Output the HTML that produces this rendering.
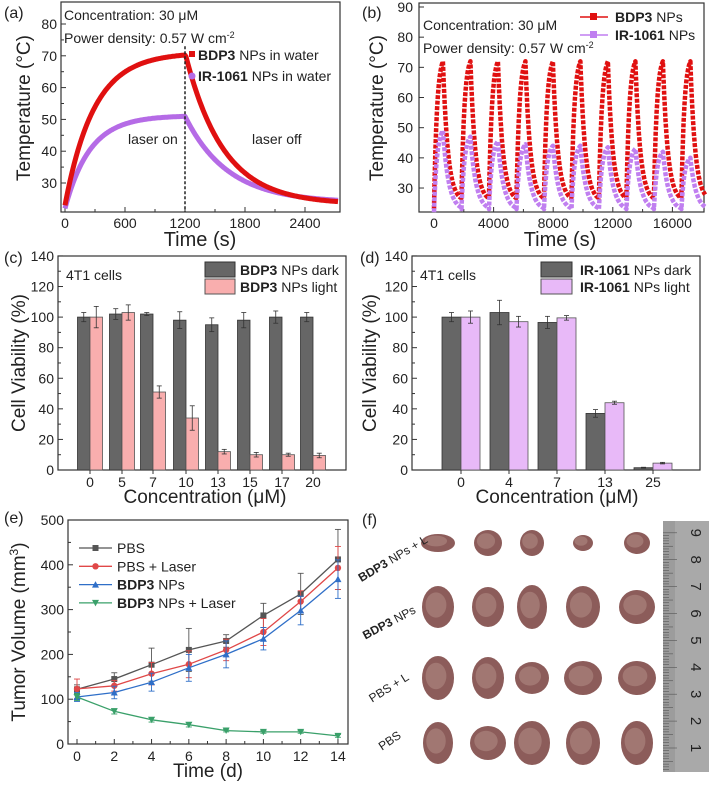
<!DOCTYPE html>
<html><head><meta charset="utf-8">
<style>
html,body{margin:0;padding:0;background:#fff;}
svg{display:block;font-family:"Liberation Sans",Arial,sans-serif;}
</style></head>
<body>
<svg id="s" width="709" height="785" viewBox="0 0 709 785" xmlns="http://www.w3.org/2000/svg">
<rect width="709" height="785" fill="#fff"/>
<g id="g"></g>
</svg>
<script>
var NS="http://www.w3.org/2000/svg",G=document.getElementById('g');
function el(t,a,txt){var e=document.createElementNS(NS,t);for(var k in a)e.setAttribute(k,a[k]);if(txt!=null)e.textContent=txt;G.appendChild(e);return e;}
function line(x1,y1,x2,y2,c,w,d){var a={x1:x1,y1:y1,x2:x2,y2:y2,stroke:c||'#333','stroke-width':w||1};if(d)a['stroke-dasharray']=d;return el('line',a);}
function text(x,y,s,fs,anc,extra){var a={x:x,y:y,'font-size':fs||14,'text-anchor':anc||'start',fill:'#222'};for(var k in extra)a[k]=extra[k];var e=el('text',a);e.innerHTML=s;return e;}
function box(x1,y1,x2,y2){el('rect',{x:x1,y:y1,width:x2-x1,height:y2-y1,fill:'none',stroke:'#333','stroke-width':1.2});}
function poly(pts,c,w,d){var a={points:pts.map(function(p){return p[0].toFixed(1)+','+p[1].toFixed(1)}).join(' '),fill:'none',stroke:c,'stroke-width':w,'stroke-linejoin':'round'};if(d)a['stroke-dasharray']=d;return el('polyline',a);}
function ylab(x,y,s){text(x,y,s,19,'middle',{transform:'rotate(-90 '+x+' '+y+')'});}

/* ---------- (a) ---------- */
(function(){
var L=61,R=340,T=2,B=212;
function X(t){return 65+t*0.1;} function Y(v){return 24+(80-v)*3.18;}
box(L,T,R,B);
[30,40,50,60,70,80].forEach(function(v){line(L,Y(v),L+5,Y(v));text(L-4,Y(v)+5,v,14,'end');});
[35,45,55,65,75].forEach(function(v){line(L,Y(v),L+3,Y(v));});
[0,600,1200,1800,2400].forEach(function(v){line(X(v),B,X(v),B-5);text(X(v),B+16,v,14,'middle');});
[300,900,1500,2100].forEach(function(v){line(X(v),B,X(v),B-3);});
var r=[],p=[];
for(var t=0;t<=2730;t+=10){
 var v1,v2;
 if(t<=1200){v1=23+48*(1-Math.exp(-t/290));v2=22+29.2*(1-Math.exp(-t/250));}
 else{v1=23.3+47.7*Math.exp(-(t-1200)/380);v2=23.8+27.2*Math.exp(-(t-1200)/430);}
 r.push([X(t),Y(v1)]);p.push([X(t),Y(v2)]);
}
poly(p,'#b56be6',5);
poly(r,'#e01010',5);
line(X(1200),Y(73),X(1200),B,'#222',1.5,'3 2');
text(64,20,'Concentration: 30 &#956;M',14);
text(64,43,'Power density: 0.57 W cm<tspan dy="-5" font-size="9">-2</tspan>',14);
el('rect',{x:189,y:51,width:6,height:6,fill:'#e01010'});
text(198,60,'<tspan font-weight="bold">BDP3</tspan> NPs in water',14);
el('circle',{cx:192,cy:76,r:3.5,fill:'#b56be6'});
text(198,81,'<tspan font-weight="bold">IR-1061</tspan> NPs in water',14);
text(128,144,'laser on',14);text(252,144,'laser off',14);
ylab(30,108,'Temperature (&#176;C)');
text(200,246,'Time (s)',20,'middle');
text(4,18,'(a)',16);
})();

/* ---------- (b) ---------- */
(function(){
var L=419,R=704,T=3,B=212;
function X(t){return 434+t*0.0149;} function Y(v){return 7+(90-v)*3.017;}
box(L,T,R,B);
[30,40,50,60,70,80,90].forEach(function(v){line(L,Y(v),L+5,Y(v));text(L-6,Y(v)+5,v,14,'end');});
[0,4000,8000,12000,16000].forEach(function(v){line(X(v),B,X(v),B-5);text(X(v),B+16,v,14,'middle');});
[2000,6000,10000,14000].forEach(function(v){line(X(v),B,X(v),B-3);});
var per=1845,r=[],p=[];
var pk=[49,47,45.5,44.5,44,44,43.5,43,42,40];
for(var c=0;c<10;c++){
 var t0=c*per, rmin=(c==0?23:27), pmin=(c==0?22:23);
 for(var t=0;t<per;t+=30){
  var tt=t0+t; if(tt>18200)break;
  var v1,v2;
  if(t<=600){v1=rmin+(72-rmin)*(1-Math.exp(-t/200))/(1-Math.exp(-3));v2=pmin+(pk[c]-pmin)*(1-Math.exp(-t/200))/(1-Math.exp(-3));}
  else{v1=25.5+46.5*Math.exp(-(t-600)/330);v2=22.5+(pk[c]-22.5)*Math.exp(-(t-600)/380);}
  r.push([X(tt),Y(v1)]);p.push([X(tt),Y(v2)]);
 }
}
poly(r,'#e01010',4.5,'4 1.5');
poly(p,'#c07ff0',4.5,'4 1.5');
text(423,30,'Concentration: 30 &#956;M',14);
text(423,53,'Power density: 0.57 W cm<tspan dy="-5" font-size="9">-2</tspan>',14);
line(580,17,608,17,'#e01010',1.5);el('rect',{x:590,y:13,width:7,height:7,fill:'#e01010'});
text(615,22,'<tspan font-weight="bold">BDP3</tspan> NPs',14);
line(580,35,608,35,'#c07ff0',1.5);el('rect',{x:590,y:31,width:7,height:7,fill:'#c07ff0'});
text(615,40,'<tspan font-weight="bold">IR-1061</tspan> NPs',14);
ylab(383,108,'Temperature (&#176;C)');
text(560,246,'Time (s)',20,'middle');
text(362,18,'(b)',16);
})();

/* ---------- bars ---------- */
function bars(L,R,cats,xs,bw,dark,light,de,le,col){
 var T=256,B=470;function Y(v){return B-v*1.529;}
 box(L,T,R,B);
 [0,20,40,60,80,100,120,140].forEach(function(v){line(L,Y(v),L+5,Y(v));text(L-4,Y(v)+5,v,14,'end');});
 [10,30,50,70,90,110,130].forEach(function(v){line(L,Y(v),L+3,Y(v));});
 cats.forEach(function(c,i){
  var x=xs[i];
  el('rect',{x:x-bw,y:Y(dark[i]),width:bw,height:B-Y(dark[i]),fill:'#666666',stroke:'#333','stroke-width':0.8});
  el('rect',{x:x,y:Y(light[i]),width:bw,height:B-Y(light[i]),fill:col,stroke:'#555','stroke-width':0.8});
  [[x-bw/2,dark[i],de[i]],[x+bw/2,light[i],le[i]]].forEach(function(q){
   line(q[0],Y(q[1]+q[2]),q[0],Y(q[1]-q[2]),'#333',0.8);
   line(q[0]-2.5,Y(q[1]+q[2]),q[0]+2.5,Y(q[1]+q[2]),'#333',0.8);
   line(q[0]-2.5,Y(q[1]-q[2]),q[0]+2.5,Y(q[1]-q[2]),'#333',0.8);
  });
  line(x,B,x,B+4);
  text(x,B+17,c,14,'middle');
 });
}
(function(){
 bars(58,346,['0','5','7','10','13','15','17','20'],[90,122,153,186,218,250,282,313],12.5,
  [100,102,102,98,95,98,100,100],[100,103,51,34,12,10,10,9.5],
  [3,3.5,1,5.5,4.5,5,4,3],[7,5,4,8,1.5,1.5,1,1.5],'#f9aeae');
 text(66,280,'4T1 cells',14);
 el('rect',{x:205,y:262,width:30,height:15,fill:'#666',stroke:'#333'});
 el('rect',{x:205,y:279,width:30,height:15,fill:'#f9aeae',stroke:'#555'});
 text(240,275,'<tspan font-weight="bold">BDP3</tspan> NPs dark',14);
 text(240,292,'<tspan font-weight="bold">BDP3</tspan> NPs light',14);
 ylab(25,363,'Cell Viability (%)');
 text(205,503,'Concentration (&#956;M)',19,'middle');
 text(4,263,'(c)',16);
})();
(function(){
 bars(412,700,['0','4','7','13','25'],[461,509,557,605,653],19,
  [100,103,96.5,37,1.5],[100,97,99.5,44,4.5],
  [3,8,4,2.5,0.3],[4,3.5,1.5,1,0.5],'#e8b9f8');
 text(420,280,'4T1 cells',14);
 el('rect',{x:541,y:262,width:31,height:15,fill:'#666',stroke:'#333'});
 el('rect',{x:541,y:279,width:31,height:15,fill:'#e8b9f8',stroke:'#555'});
 text(580,275,'<tspan font-weight="bold">IR-1061</tspan> NPs dark',14);
 text(580,292,'<tspan font-weight="bold">IR-1061</tspan> NPs light',14);
 ylab(376,363,'Cell Viability (%)');
 text(557,503,'Concentration (&#956;M)',19,'middle');
 text(360,263,'(d)',16);
})();

/* ---------- (e) ---------- */
(function(){
 var L=68,R=348,T=520,B=744;
 function X(d){return 77+d*18.64;} function Y(v){return B-v*0.448;}
 box(L,T,R,B);
 [0,100,200,300,400,500].forEach(function(v){line(L,Y(v),L+5,Y(v));text(L-4,Y(v)+5,v,14,'end');});
 [50,150,250,350,450].forEach(function(v){line(L,Y(v),L+3,Y(v));});
 for(var d=0;d<=14;d++){line(X(d),B,X(d),B-(d%2?3:5));}
 [0,2,4,6,8,10,12,14].forEach(function(d){text(X(d),B+17,d,14,'middle');});
 var S=[
  ['#555',[122,145,177,210,230,287,335,412],[10,14,37,48,14,27,46,67],'sq'],
  ['#e04848',[123,130,157,178,210,250,318,393],[22,12,25,30,24,30,24,48],'ci'],
  ['#2f6fc8',[105,115,138,170,200,235,298,368],[10,14,20,30,30,25,32,43],'tu'],
  ['#3aa06a',[105,73,54,43,30,27,27,18],[8,6,5,5,3,3,3,3],'td']];
 function mark(x,y,c,t){
  if(t=='sq')el('rect',{x:x-3,y:y-3,width:6,height:6,fill:c});
  else if(t=='ci')el('circle',{cx:x,cy:y,r:3.2,fill:c});
  else if(t=='tu')el('polygon',{points:(x-3.5)+','+(y+3)+' '+(x+3.5)+','+(y+3)+' '+x+','+(y-3.5),fill:c});
  else el('polygon',{points:(x-3.5)+','+(y-3)+' '+(x+3.5)+','+(y-3)+' '+x+','+(y+3.5),fill:c});
 }
 S.forEach(function(s){
  var pts=s[1].map(function(v,i){return [X(2*i),Y(v)];});
  s[1].forEach(function(v,i){var x=X(2*i);line(x,Y(v+s[2][i]),x,Y(v-s[2][i]),s[0],0.9);line(x-3,Y(v+s[2][i]),x+3,Y(v+s[2][i]),s[0],0.9);line(x-3,Y(v-s[2][i]),x+3,Y(v-s[2][i]),s[0],0.9);});
  poly(pts,s[0],1.3);
  pts.forEach(function(p){mark(p[0],p[1],s[0],s[3]);});
 });
 var lg=[['PBS','sq'],['PBS + Laser','ci'],['<tspan font-weight="bold">BDP3</tspan> NPs','tu'],['<tspan font-weight="bold">BDP3</tspan> NPs + Laser','td']];
 lg.forEach(function(l,i){var y=548+i*18.3;line(79,y,112,y,S[i][0],1.3);mark(95.5,y,S[i][0],l[1]);text(117,y+5,l[0],14);});
 ylab(25,632,'Tumor Volume (mm<tspan dy="-7" font-size="12">3</tspan><tspan dy="7">)</tspan>');
 text(208,777,'Time (d)',19,'middle');
 text(4,523,'(e)',16);
})();

/* ---------- (f) ---------- */
(function(){
 text(362,525,'(f)',16);
 var cols=[438,488,532,583,637];
 var rows=[[543,[[17,9],[14,13],[12,13],[10,8],[13,11]]],[607,[[16,21],[16,20],[15,22],[17,21],[18,17]]],[678,[[16,22],[16,21],[17,16],[19,17],[19,17]]],[743,[[15,21],[18,17],[18,22],[17,22],[16,22]]]];
 rows.forEach(function(r){r[1].forEach(function(sz,i){
  el('ellipse',{cx:cols[i],cy:r[0],rx:sz[0],ry:sz[1],fill:'#8c5c5a'});
  el('ellipse',{cx:cols[i]-2,cy:r[0]-2,rx:sz[0]*0.65,ry:sz[1]*0.6,fill:'#a17772'});
 });});
 el('rect',{x:663,y:521,width:46,height:251,fill:'#a9a9a9'});
 el('rect',{x:663,y:521,width:12,height:251,fill:'#9c9c9c'});
 for(var i=0;i<=90;i++){var y=748-i*2.69+26.9;if(y<523||y>770)continue;line(663,y,663+(i%10==0?14:i%5==0?10:6),y,'#555',0.6);}
 for(var n=1;n<=9;n++){var y=748-(n-1)*26.9;text(695,y,n,15,'middle',{transform:'rotate(90 695 '+y+')','dominant-baseline':'middle',fill:'#222'});}
 text(395,562,'<tspan font-weight="bold">BDP3</tspan> NPs + L',12,'middle',{transform:'rotate(-31 395 562)'});
 text(391,626,'<tspan font-weight="bold">BDP3</tspan> NPs',12,'middle',{transform:'rotate(-28 391 626)'});
 text(391,691,'PBS + L',12,'middle',{transform:'rotate(-32 391 691)'});
 text(392,744,'PBS',12,'middle',{transform:'rotate(-34 392 744)'});
})();
</script>
</body></html>
